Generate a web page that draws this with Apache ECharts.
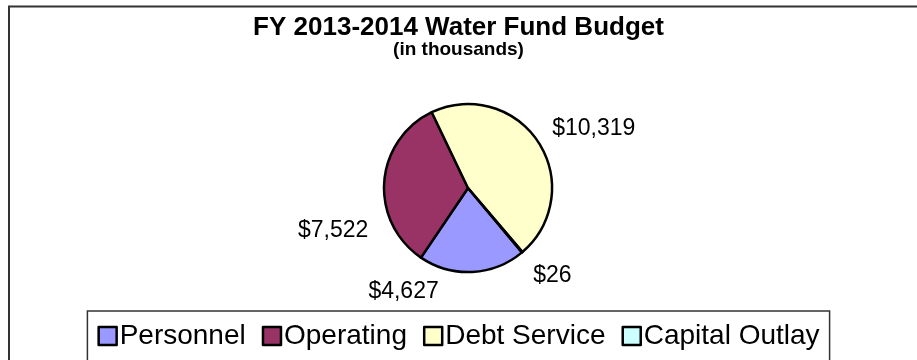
<!DOCTYPE html>
<html>
<head>
<meta charset="utf-8">
<title>FY 2013-2014 Water Fund Budget</title>
<script src="https://cdn.jsdelivr.net/npm/echarts@6/dist/echarts.min.js"></script>
<style>
  html, body { margin: 0; padding: 0; background: #ffffff; }
  #chart { width: 917px; height: 360px; }
</style>
</head>
<body>
<div id="chart"></div>
<script>
// Budget categories and amounts (in thousands of dollars)
const categories = ['Personnel', 'Operating', 'Debt Service', 'Capital Outlay'];
const amounts = [4627, 7522, 10319, 26];

// Slice colours, one per category
const sliceColors = ['#9999FF', '#993366', '#FFFFCC', '#CCFFFF'];

// Per-slice label nudges [dx, dy] applied after the outside layout
const labelNudges = [[-110, 0], [9, 50], [-8, -3], [-7, 8]];

const FONT = '"Liberation Sans", Arial, sans-serif';

const fmtMoney = v => '$' + v.toLocaleString('en-US');

const chart = echarts.init(document.getElementById('chart'), null, { renderer: 'canvas' });

chart.setOption({
  backgroundColor: '#ffffff',
  animation: false,
  title: {
    left: 'center',
    top: 10,
    text: 'FY 2013-2014 Water Fund Budget',
    subtext: '(in thousands)',
    itemGap: -1,
    textStyle: { fontFamily: FONT, fontSize: 26, fontWeight: 'bold', color: '#000' },
    subtextStyle: { fontFamily: FONT, fontSize: 19, fontWeight: 'bold', color: '#000' }
  },
  legend: {
    data: categories,
    left: 'center',
    top: 311,
    orient: 'horizontal',
    icon: 'rect',
    itemWidth: 18,
    itemHeight: 18,
    itemGap: 16,
    padding: [11, 10, 11, 10],
    borderColor: '#333',
    borderWidth: 1.5,
    selectedMode: false,
    itemStyle: { borderColor: '#000', borderWidth: 2.5 },
    textStyle: { fontFamily: FONT, fontSize: 28, color: '#000', padding: [0, 0, 0, -2] }
  },
  graphic: [{
    type: 'rect',
    shape: { x: 9, y: 6.5, width: 1200, height: 1200 },
    style: { fill: 'none', stroke: '#333', lineWidth: 2 },
    silent: true,
    z: 10
  }],
  series: [{
    type: 'pie',
    center: [468, 188],
    radius: 84,
    startAngle: -50,
    clockwise: true,
    avoidLabelOverlap: false,
    minAngle: 0,
    itemStyle: { borderColor: '#000', borderWidth: 2.5 },
    emphasis: { disabled: true },
    label: {
      show: true,
      position: 'outside',
      fontFamily: FONT,
      fontSize: 23,
      color: '#000',
      formatter: p => fmtMoney(p.value)
    },
    labelLine: { show: false, length: 20, length2: 0 },
    labelLayout: p => {
      const n = labelNudges[p.dataIndex];
      return { dx: n[0], dy: n[1] };
    },
    data: categories.map((name, i) => ({
      name: name,
      value: amounts[i],
      itemStyle: { color: sliceColors[i] }
    }))
  }]
});
</script>
</body>
</html>
